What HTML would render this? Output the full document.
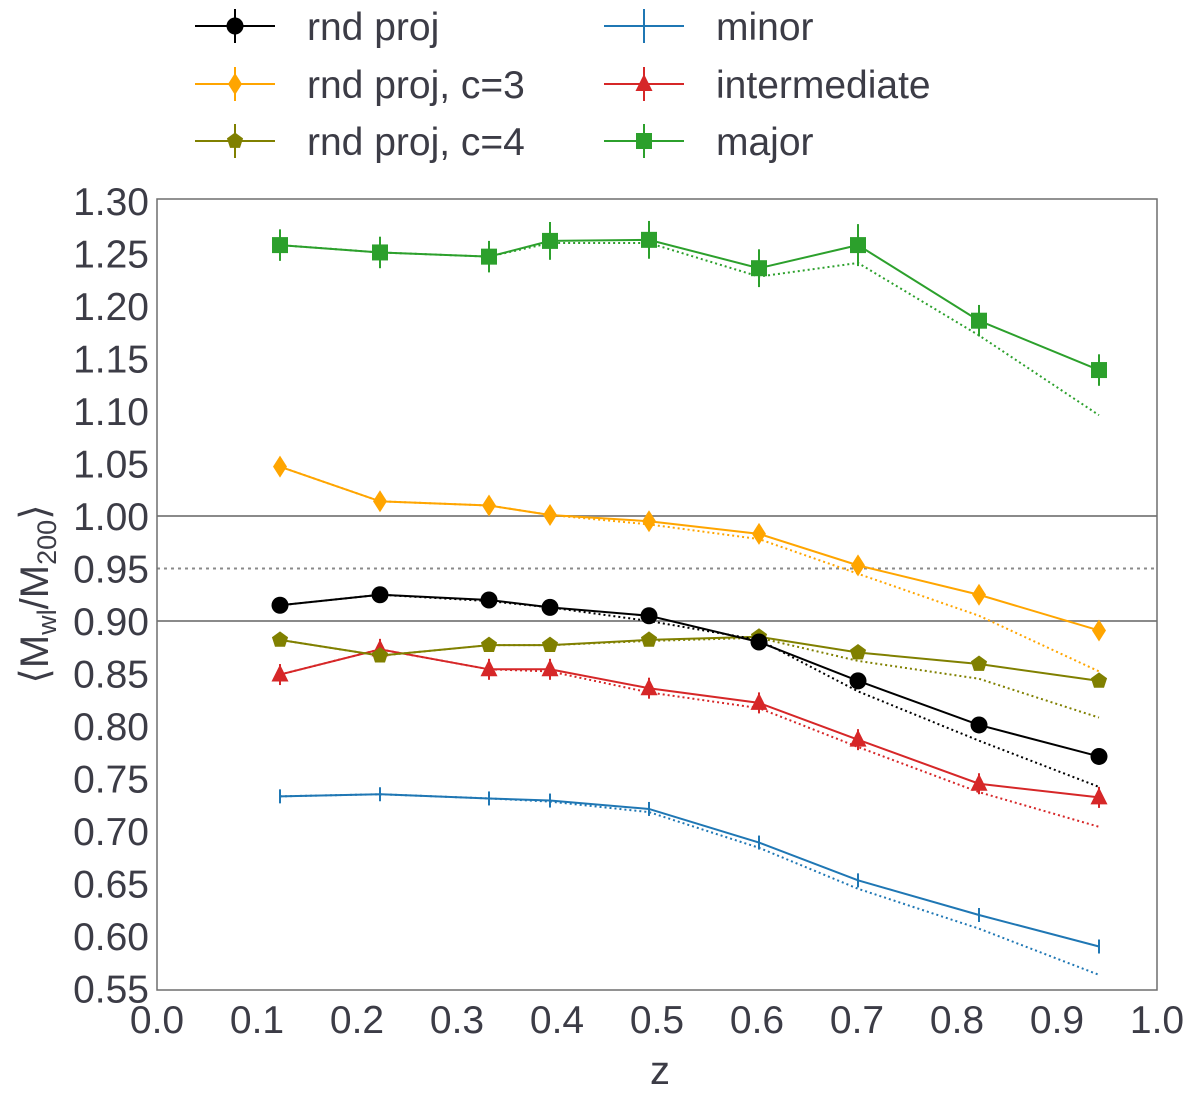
<!DOCTYPE html>
<html><head><meta charset="utf-8"><style>
body{margin:0;background:#fff;}
svg{display:block;font-family:"Liberation Sans",sans-serif;}
</style></head><body>
<svg id="chart" width="1200" height="1096" viewBox="0 0 1200 1096">
<g id="legend"></g>
<g id="ref"></g>
<g id="series"></g>
<rect x="157" y="199" width="1000" height="791" fill="none" stroke="#6e6e6e" stroke-width="1.5"/>
<g id="ticks"></g>
<text x="660" y="1084" font-size="40" fill="#3c3c46" text-anchor="middle">z</text>
<text transform="translate(48,594) rotate(-90)" font-size="40" fill="#3c3c46" text-anchor="middle">⟨M<tspan font-size="27" dy="8">wl</tspan><tspan dy="-8">/M</tspan><tspan font-size="27" dy="8">200</tspan><tspan dy="-8">⟩</tspan></text>
</svg>
<script>
const zs=[0.123,0.223,0.332,0.393,0.492,0.602,0.701,0.822,0.942];
const majorSolid=[1.258,1.251,1.247,1.262,1.263,1.236,1.258,1.186,1.139];
const majorDot=[1.258,1.251,1.247,1.260,1.260,1.228,1.241,1.172,1.096];
const c3Solid=[1.047,1.014,1.010,1.001,0.995,0.983,0.953,0.925,0.891];
const c3Dot=[1.047,1.014,1.010,1.001,0.992,0.978,0.945,0.905,0.852];
const rndSolid=[0.915,0.925,0.920,0.913,0.905,0.880,0.843,0.801,0.771];
const rndDot=[0.915,0.925,0.919,0.913,0.900,0.882,0.833,0.786,0.742];
const c4Solid=[0.882,0.867,0.877,0.877,0.882,0.885,0.870,0.859,0.843];
const c4Dot=[0.882,0.867,0.877,0.877,0.881,0.884,0.862,0.845,0.808];
const intSolid=[0.849,0.873,0.854,0.854,0.836,0.822,0.787,0.745,0.732];
const intDot=[0.849,0.873,0.854,0.852,0.832,0.817,0.780,0.737,0.704];
const minSolid=[0.733,0.735,0.731,0.729,0.721,0.689,0.653,0.620,0.590];
const minDot=[0.733,0.735,0.731,0.728,0.718,0.684,0.645,0.607,0.563];
const majorErr=[0.015,0.015,0.015,0.018,0.018,0.018,0.02,0.015,0.015];
const smallErr=[0.006,0.006,0.006,0.006,0.006,0.006,0.006,0.006,0.006];
const xTicks=["0.0","0.1","0.2","0.3","0.4","0.5","0.6","0.7","0.8","0.9","1.0"];
const yTicks=["0.55","0.60","0.65","0.70","0.75","0.80","0.85","0.90","0.95","1.00","1.05","1.10","1.15","1.20","1.25","1.30"];
const NS="http://www.w3.org/2000/svg";
const X=v=>157+v*1000, Y=v=>516-(v-1)*1050;
function mk(tag,at,parent){const e=document.createElementNS(NS,tag);for(const k in at)e.setAttribute(k,at[k]);parent.appendChild(e);return e;}
const ticks=document.getElementById('ticks');
xTicks.forEach(t=>{const e=mk('text',{x:X(+t),y:1033,'font-size':39,fill:'#3c3c46','text-anchor':'middle'},ticks);e.textContent=t;

});
yTicks.forEach(t=>{const e=mk('text',{x:149,y:Y(+t)+14,'font-size':39,fill:'#3c3c46','text-anchor':'end'},ticks);e.textContent=t;

});
const ref=document.getElementById('ref');
[[1.0,''],[0.9,''],[0.95,'3,4']].forEach(([v,d])=>{const e=mk('line',{x1:157,x2:1157,y1:Y(v),y2:Y(v),stroke:'#8a8a8a','stroke-width':2,'stroke-dasharray':d},ref);

});
function marker(g,type,cx,cy,col){
 let e;
 if(type==='circle')e=mk('circle',{cx,cy,r:8.5,fill:col},g);
 else if(type==='diamond')e=mk('polygon',{points:`${cx},${cy-11} ${cx+7},${cy} ${cx},${cy+11} ${cx-7},${cy}`,fill:col},g);
 else if(type==='pent'){let p=[];for(let i=0;i<5;i++){const a=-Math.PI/2+i*2*Math.PI/5;p.push((cx+8.5*Math.cos(a))+','+(cy+8.5*Math.sin(a)));}e=mk('polygon',{points:p.join(' '),fill:col},g);}
 else if(type==='tri')e=mk('polygon',{points:`${cx},${cy-10} ${cx+8.5},${cy+7} ${cx-8.5},${cy+7}`,fill:col},g);
 else if(type==='square')e=mk('rect',{x:cx-8,y:cy-8,width:16,height:16,fill:col},g);
 else if(type==='tick')e=mk('line',{x1:cx,x2:cx,y1:cy-7,y2:cy+7,stroke:col,'stroke-width':2},g);
 if(e){
 }
}
const sers=[
 ['minor',minSolid,minDot,smallErr,'#1f77b4','tick'],
 ['intermediate',intSolid,intDot,smallErr.map(v=>v+0.004),'#d62728','tri'],
 ['rnd-proj-c4',c4Solid,c4Dot,smallErr,'#808000','pent'],
 ['rnd-proj',rndSolid,rndDot,smallErr,'#000000','circle'],
 ['rnd-proj-c3',c3Solid,c3Dot,smallErr,'#ffa500','diamond'],
 ['major',majorSolid,majorDot,majorErr,'#2ca02c','square']];
const sg=document.getElementById('series');
sers.forEach(([n,s,d,er,col,m])=>{
 const g=mk('g',{},sg);
 
 
 const dl=mk('polyline',{points:zs.map((z,i)=>X(z)+','+Y(d[i])).join(' '),fill:'none',stroke:col,'stroke-width':2,'stroke-dasharray':'2,3'},g);
 
 
 const sl=mk('polyline',{points:zs.map((z,i)=>X(z)+','+Y(s[i])).join(' '),fill:'none',stroke:col,'stroke-width':2},g);
 
 
 zs.forEach((z,i)=>{const e=mk('line',{x1:X(z),x2:X(z),y1:Y(s[i]+er[i]),y2:Y(s[i]-er[i]),stroke:col,'stroke-width':2},g);
 
 
 marker(g,m,X(z),Y(s[i]),col);});
});
const lg=document.getElementById('legend');
const legItems=[['rnd proj','#000000','circle',235,26],['rnd proj, c=3','#ffa500','diamond',235,84],['rnd proj, c=4','#808000','pent',235,141],
 ['minor','#1f77b4','tick',644,26],['intermediate','#d62728','tri',644,84],['major','#2ca02c','square',644,141]];
legItems.forEach(([t,col,m,cx,cy])=>{
 const g=mk('g',{},lg);
 
 
 mk('line',{x1:cx-40,x2:cx+40,y1:cy,y2:cy,stroke:col,'stroke-width':2},g);
 mk('line',{x1:cx,x2:cx,y1:cy-17,y2:cy+17,stroke:col,'stroke-width':2},g);
 marker(g,m,cx,cy,col);
 const e=mk('text',{x:cx+72,y:cy+14,'font-size':39,fill:'#3c3c46'},g);e.textContent=t;
 
 
});
</script>
</body></html>
